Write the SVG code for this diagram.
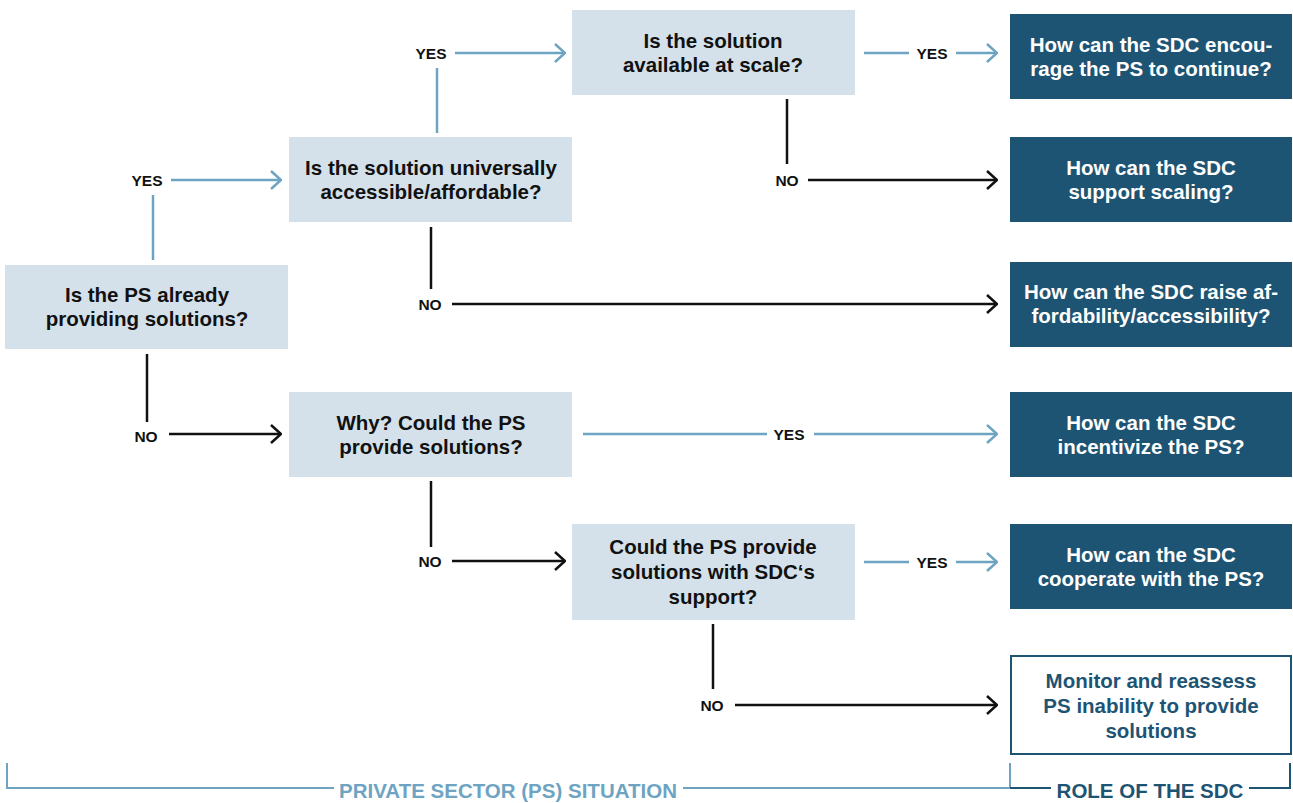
<svg xmlns="http://www.w3.org/2000/svg" width="1293" height="803" viewBox="0 0 1293 803">
<style>
text{font-family:"Liberation Sans",Arial,sans-serif;font-weight:bold}
.q{fill:#d4e1ea}
.r{fill:#1e5473}
.qt{font-size:20.5px;fill:#111;text-anchor:middle}
.rt{font-size:20.5px;fill:#fff;text-anchor:middle}
.wt{font-size:20.5px;fill:#1e5473;text-anchor:middle}
.lb{font-size:15.5px;fill:#111;text-anchor:middle}
.k{stroke:#111;stroke-width:2.5;fill:none}
.b{stroke:#6ea4c2;stroke-width:2.5;fill:none}
.ft{font-size:20.5px;text-anchor:middle}
</style>
<defs>
<marker id="ak" viewBox="0 0 12 20" refX="11" refY="10" markerWidth="12" markerHeight="20" markerUnits="userSpaceOnUse" orient="auto"><path d="M1,1 L11,10 L1,19" stroke="#111" stroke-width="2.5" fill="none"/></marker>
<marker id="ab" viewBox="0 0 12 20" refX="11" refY="10" markerWidth="12" markerHeight="20" markerUnits="userSpaceOnUse" orient="auto"><path d="M1,1 L11,10 L1,19" stroke="#6ea4c2" stroke-width="2.5" fill="none"/></marker>
</defs>
<rect width="1293" height="803" fill="#fff"/>

<g id="n1"><rect class="q" x="5" y="265" width="283" height="84"/><text class="qt" x="147" y="302">Is the PS already</text><text class="qt" x="147" y="326">providing solutions?</text></g>
<g id="n2"><rect class="q" x="289" y="137" width="283" height="85"/><text class="qt" x="431" y="175">Is the solution universally</text><text class="qt" x="431" y="199">accessible/affordable?</text></g>
<g id="n3"><rect class="q" x="572" y="10" width="283" height="85"/><text class="qt" x="713" y="48">Is the solution</text><text class="qt" x="713" y="72">available at scale?</text></g>
<g id="n4"><rect class="q" x="289" y="392" width="283" height="85"/><text class="qt" x="431" y="430">Why? Could the PS</text><text class="qt" x="431" y="454">provide solutions?</text></g>
<g id="n5"><rect class="q" x="572" y="524" width="283" height="96"/><text class="qt" x="713" y="554">Could the PS provide</text><text class="qt" x="713" y="579">solutions with SDC‘s</text><text class="qt" x="713" y="604">support?</text></g>

<g id="r1"><rect class="r" x="1010" y="14" width="282" height="85"/><text class="rt" x="1151" y="52">How can the SDC encou-</text><text class="rt" x="1151" y="76">rage the PS to continue?</text></g>
<g id="r2"><rect class="r" x="1010" y="137" width="282" height="85"/><text class="rt" x="1151" y="175">How can the SDC</text><text class="rt" x="1151" y="199">support scaling?</text></g>
<g id="r3"><rect class="r" x="1010" y="262" width="282" height="85"/><text class="rt" x="1151" y="299">How can the SDC raise af-</text><text class="rt" x="1151" y="323">fordability/accessibility?</text></g>
<g id="r4"><rect class="r" x="1010" y="392" width="282" height="85"/><text class="rt" x="1151" y="430">How can the SDC</text><text class="rt" x="1151" y="454">incentivize the PS?</text></g>
<g id="r5"><rect class="r" x="1010" y="524" width="282" height="85"/><text class="rt" x="1151" y="562">How can the SDC</text><text class="rt" x="1151" y="586">cooperate with the PS?</text></g>
<g id="r6"><rect x="1011" y="656" width="280" height="98" fill="#fff" stroke="#1e5473" stroke-width="2"/><text class="wt" x="1151" y="688">Monitor and reassess</text><text class="wt" x="1151" y="713">PS inability to provide</text><text class="wt" x="1151" y="738">solutions</text></g>

<g id="connectors">
<path class="b" d="M153,260 V195"/><path class="b" d="M171,180 H281" marker-end="url(#ab)"/>
<path class="b" d="M437,133 V68"/><path class="b" d="M455,53 H565" marker-end="url(#ab)"/>
<path class="b" d="M864,53 H909"/><path class="b" d="M956,53 H997" marker-end="url(#ab)"/>
<path class="k" d="M787,99 V164"/><path class="k" d="M808,180 H997" marker-end="url(#ak)"/>
<path class="k" d="M431,227 V289"/><path class="k" d="M452,304 H997" marker-end="url(#ak)"/>
<path class="k" d="M147,354 V422"/><path class="k" d="M169,434 H281" marker-end="url(#ak)"/>
<path class="b" d="M583,434 H767"/><path class="b" d="M814,434 H997" marker-end="url(#ab)"/>
<path class="k" d="M431,481 V547"/><path class="k" d="M452,561 H565" marker-end="url(#ak)"/>
<path class="b" d="M864,562 H909"/><path class="b" d="M956,562 H997" marker-end="url(#ab)"/>
<path class="k" d="M713,624 V689"/><path class="k" d="M735,705 H997" marker-end="url(#ak)"/>
<text class="lb" x="147" y="186">YES</text>
<text class="lb" x="431" y="59">YES</text>
<text class="lb" x="932" y="59">YES</text>
<text class="lb" x="787" y="186">NO</text>
<text class="lb" x="430" y="310">NO</text>
<text class="lb" x="146" y="442">NO</text>
<text class="lb" x="789" y="440">YES</text>
<text class="lb" x="430" y="567">NO</text>
<text class="lb" x="932" y="568">YES</text>
<text class="lb" x="712" y="711">NO</text>
</g>

<g id="footer">
<path d="M7,763 V788 H334" stroke="#6ea4c2" stroke-width="2" fill="none"/>
<path d="M683,788 H1010 V763" stroke="#6ea4c2" stroke-width="2" fill="none"/>
<text class="ft" x="508" y="798" fill="#6ea4c2">PRIVATE SECTOR (PS) SITUATION</text>
<path d="M1010,788 H1051" stroke="#1e5473" stroke-width="2" fill="none"/>
<path d="M1249,788 H1290 V763" stroke="#1e5473" stroke-width="2" fill="none"/>
<text class="ft" x="1150" y="798" fill="#1e5473">ROLE OF THE SDC</text>
</g>
</svg>
